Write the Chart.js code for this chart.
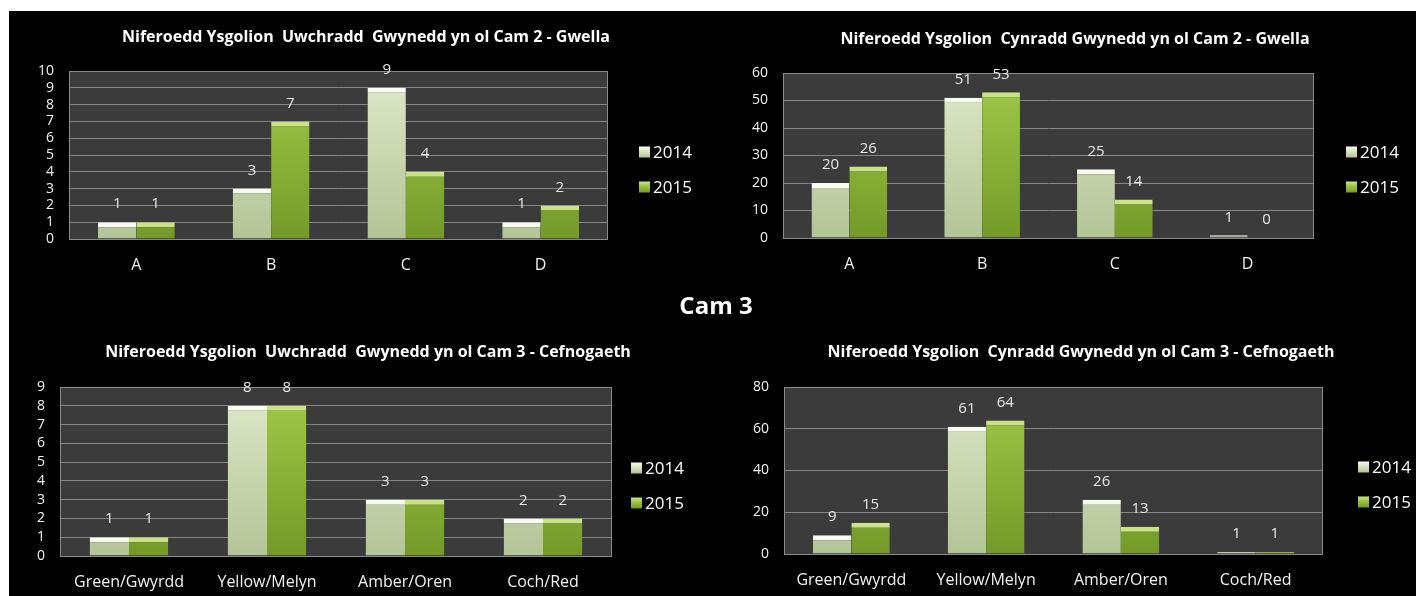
<!DOCTYPE html>
<html>

<head>
    <title>Niferoedd Ysgolion Gwynedd - Cam 2 / Cam 3</title>
    <script src="https://cdn.jsdelivr.net/npm/chart.js"></script>
    <style>
        body { margin: 0; width: 1416px; height: 596px; background: #fff; position: relative; overflow: hidden; }
        #board { position: absolute; left: 9px; top: 11px; width: 1407px; height: 585px; background: #000; }
        #cam3 { position: absolute; left: 616px; top: 289px; width: 200px; text-align: center; color: #fff;
                font: bold 24px 'Open Sans', sans-serif; line-height: 32px; z-index: 5; }
        canvas { position: absolute; z-index: 2; }
    </style>
</head>

<body>
    <div id="board"></div>
    <div id="cam3">Cam 3</div>

    <script>
        // data
        var cam2Labels = ['A', 'B', 'C', 'D'];
        var cam3Labels = ['Green/Gwyrdd', 'Yellow/Melyn', 'Amber/Oren', 'Coch/Red'];
        var seriesNames = ['2014', '2015'];

        var uwchraddCam2_2014 = [1, 3, 9, 1];
        var uwchraddCam2_2015 = [1, 7, 4, 2];
        var cynraddCam2_2014 = [20, 51, 25, 1];
        var cynraddCam2_2015 = [26, 53, 14, 0];
        var uwchraddCam3_2014 = [1, 8, 3, 2];
        var uwchraddCam3_2015 = [1, 8, 3, 2];
        var cynraddCam3_2014 = [9, 61, 26, 1];
        var cynraddCam3_2015 = [15, 64, 13, 1];

        var yMaxes = [10, 60, 9, 80];
        var ySteps = [1, 10, 1, 20];

        // where each chart sits on the page (canvas box + plot area, page pixels)
        var boxes = [
            { x: 9,   y: 11,  w: 714, h: 285, l: 69,  r: 608,  t: 71,  b: 239, titleX: 366,  titleY: 37,  legX: 639,  legY: [152, 187] },
            { x: 734, y: 11,  w: 682, h: 285, l: 783, r: 1314, t: 73,  b: 238, titleX: 1075, titleY: 39,  legX: 1346, legY: [152, 187] },
            { x: 9,   y: 320, w: 718, h: 276, l: 60,  r: 612,  t: 387, b: 556, titleX: 368,  titleY: 352, legX: 631,  legY: [468, 503] },
            { x: 746, y: 320, w: 670, h: 276, l: 784, r: 1323, t: 387, b: 554, titleX: 1081, titleY: 352, legX: 1358, legY: [467, 502] }
        ];

        var barTop = ['#dfe9ca', '#a2cb4a'];
        var barBottom = ['#b3c496', '#739a28'];
        var bevel = ['#f8fbf0', '#cbe483'];

        Chart.defaults.font.family = "'Open Sans', sans-serif";
        Chart.defaults.color = '#f2f2f2';

        function barFill(chart, i) {
            var a = chart.chartArea;
            if (!a) return barTop[i];
            var g = chart.ctx.createLinearGradient(0, a.top, 0, a.bottom);
            g.addColorStop(0, barTop[i]);
            g.addColorStop(1, barBottom[i]);
            return g;
        }

        // plot background, frame, title, value labels and the little legend on the right
        var decor = {
            id: 'decor',
            beforeDraw(chart) {
                var a = chart.chartArea, ctx = chart.ctx;
                ctx.save();
                ctx.fillStyle = '#3b3b3b';
                ctx.fillRect(a.left, a.top, a.right - a.left, a.bottom - a.top);
                ctx.restore();
            },
            beforeDatasetsDraw(chart) {
                var a = chart.chartArea, ctx = chart.ctx;
                ctx.save();
                ctx.strokeStyle = '#8a8a8a';
                ctx.lineWidth = 1;
                ctx.strokeRect(a.left + 0.5, a.top + 0.5, a.right - a.left - 1, a.bottom - a.top);
                ctx.restore();
            },
            afterDatasetsDraw(chart) {
                var ctx = chart.ctx;
                ctx.save();
                ctx.fillStyle = '#e8e8e8';
                ctx.font = "15px 'Open Sans', sans-serif";
                ctx.textAlign = 'center';
                ctx.textBaseline = 'middle';
                chart.data.datasets.forEach(function (ds, i) {
                    chart.getDatasetMeta(i).data.forEach(function (bar, j) {
                        ctx.fillText(String(ds.data[j]), bar.x, bar.y - 18);
                    });
                });
                ctx.restore();
            },
            afterDraw(chart, args, opts) {
                var ctx = chart.ctx;
                ctx.save();
                // title, centred over the whole panel rather than the plot
                ctx.fillStyle = '#ffffff';
                ctx.font = "bold 16px 'Open Sans', sans-serif";
                ctx.textAlign = 'center';
                ctx.textBaseline = 'middle';
                ctx.fillText(opts.title, opts.titleX, opts.titleY);

                chart.data.datasets.forEach(function (ds, i) {
                    var x = opts.x, y = opts.ys[i];
                    var g = ctx.createLinearGradient(0, y - 5.5, 0, y + 5.5);
                    g.addColorStop(0, bevel[i]);
                    g.addColorStop(0.35, barTop[i]);
                    g.addColorStop(1, barBottom[i]);
                    ctx.fillStyle = g;
                    ctx.fillRect(x, y - 5.5, 11, 11);
                    ctx.fillStyle = '#ffffff';
                    ctx.font = "17px 'Open Sans', sans-serif";
                    ctx.textAlign = 'left';
                    ctx.textBaseline = 'middle';
                    ctx.fillText(ds.label, x + 14, y + 1);
                });
                ctx.restore();
            }
        };

        function drawChart(idx, title, labels, d2014, d2015) {
            var p = boxes[idx];
            var canvas = document.createElement('canvas');
            canvas.width = p.w;
            canvas.height = p.h;
            canvas.style.left = p.x + 'px';
            canvas.style.top = p.y + 'px';
            canvas.style.width = p.w + 'px';
            canvas.style.height = p.h + 'px';
            document.body.appendChild(canvas);

            var sets = [d2014, d2015].map(function (d, i) {
                return {
                    label: seriesNames[i],
                    data: d,
                    backgroundColor: function (c) { return barFill(c.chart, i); },
                    borderColor: bevel[i],
                    borderWidth: { top: 5, left: 0, right: 0, bottom: 0 },
                    categoryPercentage: 0.57,
                    barPercentage: 1
                };
            });

            return new Chart(canvas, {
                type: 'bar',
                data: { labels: labels, datasets: sets },
                options: {
                    responsive: false,
                    animation: false,
                    layout: { padding: { top: p.t - p.y, left: 0, bottom: 0, right: p.x + p.w - p.r } },
                    scales: {
                        x: {
                            grid: { display: false, drawTicks: false },
                            border: { display: false },
                            ticks: { color: '#f2f2f2', font: { size: 16 }, padding: 17, maxRotation: 0 },
                            afterFit: function (s) { s.height = p.y + p.h - p.b; }
                        },
                        y: {
                            min: 0,
                            max: yMaxes[idx],
                            grid: { color: '#858585', lineWidth: 1, drawTicks: false },
                            border: { display: false },
                            ticks: { stepSize: ySteps[idx], autoSkip: false, color: '#f2f2f2', font: { size: 14 }, padding: 15 },
                            afterFit: function (s) { s.width = p.l - p.x; }
                        }
                    },
                    plugins: {
                        legend: { display: false },
                        tooltip: { enabled: false },
                        title: { display: false },
                        decor: {
                            title: title,
                            titleX: p.titleX - p.x,
                            titleY: p.titleY - p.y,
                            x: p.legX - p.x,
                            ys: p.legY.map(function (v) { return v - p.y; })
                        }
                    }
                },
                plugins: [decor]
            });
        }

        drawChart(0, 'Niferoedd Ysgolion  Uwchradd  Gwynedd yn ol Cam 2 - Gwella', cam2Labels, uwchraddCam2_2014, uwchraddCam2_2015);
        drawChart(1, 'Niferoedd Ysgolion  Cynradd Gwynedd yn ol Cam 2 - Gwella', cam2Labels, cynraddCam2_2014, cynraddCam2_2015);
        drawChart(2, 'Niferoedd Ysgolion  Uwchradd  Gwynedd yn ol Cam 3 - Cefnogaeth', cam3Labels, uwchraddCam3_2014, uwchraddCam3_2015);
        drawChart(3, 'Niferoedd Ysgolion  Cynradd Gwynedd yn ol Cam 3 - Cefnogaeth', cam3Labels, cynraddCam3_2014, cynraddCam3_2015);
    </script>

</body>

</html>
